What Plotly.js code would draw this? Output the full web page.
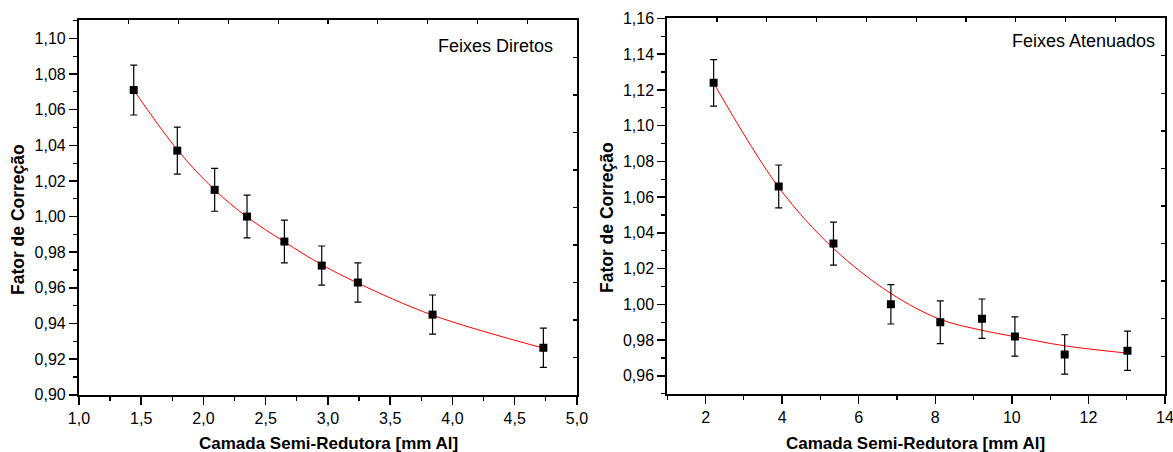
<!DOCTYPE html>
<html>
<head>
<meta charset="utf-8">
<script src="https://cdn.plot.ly/plotly-3.0.1.min.js"></script>
<style>html,body{margin:0;padding:0;background:#fff;}#chart{width:1173px;height:452px;}</style>
</head>
<body>
<div id="chart"></div>
<script>
// Feixes Diretos (left panel)
const diretosX = [1.44, 1.79, 2.09, 2.35, 2.65, 2.95, 3.24, 3.84, 4.73];
const diretosY = [1.071, 1.037, 1.015, 1.000, 0.986, 0.9725, 0.963, 0.945, 0.9264];
const diretosErr = [0.014, 0.0132, 0.012, 0.012, 0.012, 0.011, 0.011, 0.011, 0.011];
const diretosFitX = [1.44, 1.79, 2.09, 2.35, 2.65, 2.95, 3.24, 3.84, 4.73];
const diretosFitY = [1.071, 1.0375, 1.0150, 0.9998, 0.9858, 0.9730, 0.9627, 0.9447, 0.9262];

// Feixes Atenuados (right panel)
const atenX = [2.21, 3.91, 5.34, 6.84, 8.13, 9.22, 10.08, 11.38, 13.02];
const atenY = [1.124, 1.066, 1.034, 1.000, 0.990, 0.992, 0.982, 0.972, 0.974];
const atenErr = [0.013, 0.012, 0.012, 0.011, 0.012, 0.011, 0.011, 0.011, 0.011];
const atenFitX = [2.21, 3.91, 5.34, 6.84, 8.13, 9.22, 10.08, 11.38, 13.02];
const atenFitY = [1.1239, 1.0655, 1.0313, 1.0061, 0.9916, 0.9855, 0.9819, 0.9768, 0.9727];

const panelLabels = ["Feixes Diretos", "Feixes Atenuados"];
const xTitle = "Camada Semi-Redutora [mm Al]";
const yTitle = "Fator de Correção";

const FONT = "Liberation Sans, Arial, Helvetica, sans-serif";

function pts(x, y, err, xa, ya) {
  return {
    type: "scatter", mode: "markers", x: x, y: y, xaxis: xa, yaxis: ya,
    marker: {symbol: "square", size: 8, color: "#000"},
    error_y: {type: "data", array: err, visible: true, color: "#000", thickness: 1.2, width: 3.5},
    showlegend: false, hoverinfo: "x+y"
  };
}
function fit(x, y, xa, ya) {
  return {
    type: "scatter", mode: "lines", x: x, y: y, xaxis: xa, yaxis: ya,
    line: {color: "#ff0000", width: 1, shape: "spline", smoothing: 1},
    showlegend: false, hoverinfo: "skip"
  };
}
function empty(xa, ya) {
  return {type: "scatter", mode: "markers", x: [], y: [], xaxis: xa, yaxis: ya, showlegend: false, hoverinfo: "skip"};
}

const data = [
  fit(diretosFitX, diretosFitY, "x", "y"),
  pts(diretosX, diretosY, diretosErr, "x", "y"),
  fit(atenFitX, atenFitY, "x2", "y2"),
  pts(atenX, atenY, atenErr, "x2", "y2"),
  empty("x3", "y"), empty("x", "y3"),
  empty("x4", "y2"), empty("x2", "y4")
];

const baseAxis = {
  showgrid: false, zeroline: false, showline: true, linewidth: 2, linecolor: "#000",
  mirror: true, ticks: "outside", ticklen: 8, tickwidth: 1.5, tickcolor: "#000",
  ticklabeloverflow: "allow",
  tickfont: {family: FONT, size: 16, color: "#000"}, fixedrange: true
};
const decoAxis = {
  showgrid: false, zeroline: false, showline: false, ticks: "inside", ticklen: 4,
  tickwidth: 1.2, tickcolor: "#000", showticklabels: false, range: [0, 10], tick0: 0, dtick: 1,
  fixedrange: true
};

const layout = {
  width: 1173, height: 452,
  margin: {l: 0, r: 0, t: 0, b: 0},
  paper_bgcolor: "#fff", plot_bgcolor: "#fff",
  separators: ",.",
  font: {family: FONT, color: "#000"},
  showlegend: false,
  xaxis: Object.assign({}, baseAxis, {domain: [0.0673, 0.4919], range: [1, 5.0001], tick0: 1, dtick: 0.5, tickformat: ".1f",
    anchor: "y", minor: {dtick: 0.25, ticklen: 4, ticks: "outside", tickwidth: 1.2, tickcolor: "#000"}}),
  yaxis: Object.assign({}, baseAxis, {domain: [0.1261, 0.9558], range: [0.8999, 1.1103], tick0: 0.9, dtick: 0.02, tickformat: ".2f",
    anchor: "x", minor: {dtick: 0.01, ticklen: 4, ticks: "outside", tickwidth: 1.2, tickcolor: "#000"}}),
  xaxis2: Object.assign({}, baseAxis, {domain: [0.5689, 0.9932], range: [1, 14.001], tick0: 0, dtick: 2, tickformat: "d",
    anchor: "y2", minor: {dtick: 1, ticklen: 4, ticks: "outside", tickwidth: 1.2, tickcolor: "#000"}}),
  yaxis2: Object.assign({}, baseAxis, {domain: [0.129, 0.9595], range: [0.95, 1.1601], tick0: 0.96, dtick: 0.02, tickformat: ".2f",
    anchor: "x2", minor: {dtick: 0.01, ticklen: 4, ticks: "outside", tickwidth: 1.2, tickcolor: "#000"}}),
  xaxis3: Object.assign({}, decoAxis, {overlaying: "x", side: "top", anchor: "y"}),
  yaxis3: Object.assign({}, decoAxis, {overlaying: "y", side: "right", anchor: "x"}),
  xaxis4: Object.assign({}, decoAxis, {overlaying: "x2", side: "top", anchor: "y2"}),
  yaxis4: Object.assign({}, decoAxis, {overlaying: "y2", side: "right", anchor: "x2"}),
  annotations: [
    {text: panelLabels[0], xref: "paper", yref: "paper", x: 555/1173, y: 1 - 46.3/452, xanchor: "right", yanchor: "middle",
      showarrow: false, font: {family: FONT, size: 18, color: "#000"}},
    {text: panelLabels[1], xref: "paper", yref: "paper", x: 1156.7/1173, y: 1 - 41/452, xanchor: "right", yanchor: "middle",
      showarrow: false, font: {family: FONT, size: 18, color: "#000"}},
    {text: xTitle, xref: "paper", yref: "paper", x: 328.3/1173, y: 1 - 443/452, xanchor: "center", yanchor: "middle",
      showarrow: false, font: {family: FONT, size: 17, color: "#000", weight: "bold"}},
    {text: xTitle, xref: "paper", yref: "paper", x: 915.5/1173, y: 1 - 443/452, xanchor: "center", yanchor: "middle",
      showarrow: false, font: {family: FONT, size: 17, color: "#000", weight: "bold"}},
    {text: yTitle, xref: "paper", yref: "paper", x: 18/1173, y: 1 - 220/452, xanchor: "center", yanchor: "middle",
      textangle: -90, showarrow: false, font: {family: FONT, size: 17.5, color: "#000", weight: "bold"}},
    {text: yTitle, xref: "paper", yref: "paper", x: 607/1173, y: 1 - 218/452, xanchor: "center", yanchor: "middle",
      textangle: -90, showarrow: false, font: {family: FONT, size: 17.5, color: "#000", weight: "bold"}}
  ]
};

Plotly.newPlot("chart", data, layout, {displayModeBar: false, staticPlot: true});
</script>
</body>
</html>
